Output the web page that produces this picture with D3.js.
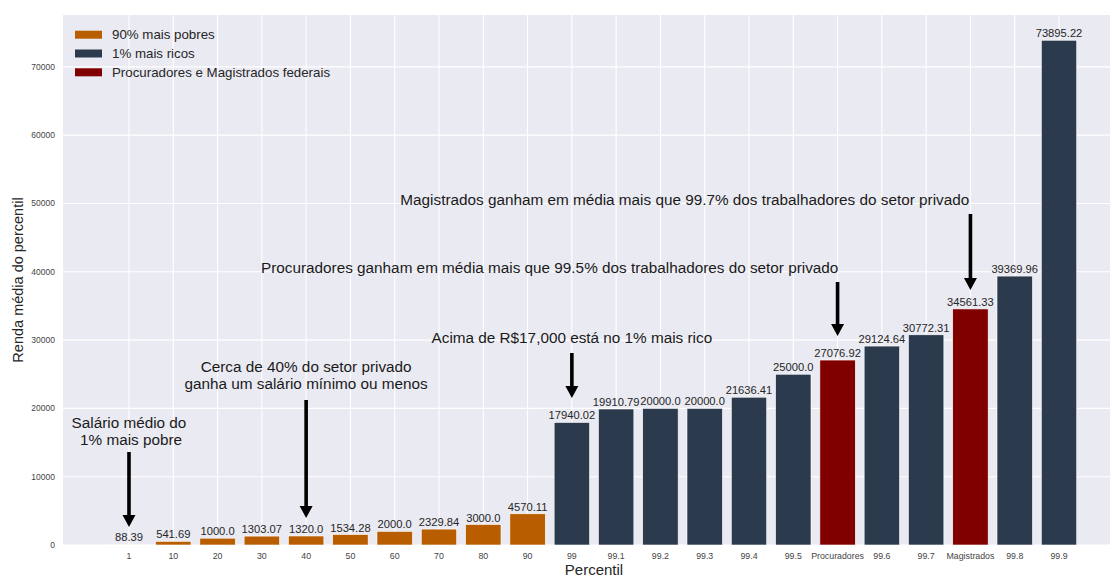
<!DOCTYPE html>
<html>
<head>
<meta charset="utf-8">
<script src="https://cdn.jsdelivr.net/npm/d3@7"></script>
<style>
  body { margin: 0; background: #fff; }
  svg { display: block; font-family: "Liberation Sans", Arial, sans-serif; }
</style>
</head>
<body>
<svg id="chart" width="1110" height="576"></svg>
<script>
var percentis = ['1', '10', '20', '30', '40', '50', '60', '70', '80', '90',
  '99', '99.1', '99.2', '99.3', '99.4', '99.5', 'Procuradores', '99.6', '99.7',
  'Magistrados', '99.8', '99.9'];
var rendas = [88.39, 541.69, 1000.0, 1303.07, 1320.0, 1534.28, 2000.0, 2329.84,
  3000.0, 4570.11, 17940.02, 19910.79, 20000.0, 20000.0, 21636.41, 25000.0,
  27076.92, 29124.64, 30772.31, 34561.33, 39369.96, 73895.22];
var grupos = ['pobres', 'pobres', 'pobres', 'pobres', 'pobres', 'pobres', 'pobres',
  'pobres', 'pobres', 'pobres', 'ricos', 'ricos', 'ricos', 'ricos', 'ricos', 'ricos',
  'federais', 'ricos', 'ricos', 'federais', 'ricos', 'ricos'];
var legendaNomes = ['90% mais pobres', '1% mais ricos', 'Procuradores e Magistrados federais'];
var legendaGrupos = ['pobres', 'ricos', 'federais'];
var yTicks = [0, 10000, 20000, 30000, 40000, 50000, 60000, 70000];

// annotations: text lines, text x (bar index), baseline of last line, arrow bar index, arrow from/to
var notas = [
  {lines: ['Salário médio do', ' 1% mais pobre'], tx: 0, ty: 14640, ax: 0, from: 13615, to: 2635},
  {lines: ['Cerca de 40% do setor privado', 'ganha um salário mínimo ou menos'], tx: 4, ty: 22837, ax: 4, from: 21227, to: 3953},
  {lines: ['Acima de R$17,000 está no 1% mais rico'], tx: 10, ty: 29571, ax: 10, from: 28107, to: 21520},
  {lines: ['Procuradores ganham em média mais que 99.5% dos trabalhadores do setor privado'], tx: 9.5, ty: 39819, ax: 16, from: 38500, to: 30596},
  {lines: ['Magistrados ganham em média mais que 99.7% dos trabalhadores do setor privado'], tx: 12.55, ty: 49773, ax: 19, from: 48456, to: 37330}
];

var cores = {pobres: '#b85e00', ricos: '#2c3a4d', federais: '#800000'};

var svg = d3.select('#chart');
var mLeft = 63, mRight = 1125, mTop = 15, mBottom = 545;

// matplotlib-like limits: bars at 0..n-1, width 0.8, 5% margin
var n = percentis.length;
var span = (n - 1) + 0.8;
var x = d3.scaleLinear()
  .domain([-0.4 - span * 0.05, n - 1 + 0.4 + span * 0.05])
  .range([mLeft, mRight]);
var y = d3.scaleLinear()
  .domain([0, d3.max(rendas) * 1.05])
  .range([mBottom, mTop]);

// background
svg.append('rect')
  .attr('x', mLeft).attr('y', mTop)
  .attr('width', mRight - mLeft).attr('height', mBottom - mTop)
  .attr('fill', '#eaeaf2');

// grid
svg.append('g').selectAll('line.hg')
  .data(yTicks)
  .enter().append('line')
    .attr('x1', mLeft).attr('x2', mRight)
    .attr('y1', function(d) { return y(d); })
    .attr('y2', function(d) { return y(d); })
    .attr('stroke', '#fff').attr('stroke-width', 1.1);

svg.append('g').selectAll('line.vg')
  .data(percentis)
  .enter().append('line')
    .attr('x1', function(d, i) { return x(i); })
    .attr('x2', function(d, i) { return x(i); })
    .attr('y1', mTop).attr('y2', mBottom)
    .attr('stroke', '#fff').attr('stroke-width', 1.1);

// bars
var bw = x(0.8) - x(0);
svg.append('g').selectAll('rect.bar')
  .data(rendas)
  .enter().append('rect')
    .attr('x', function(d, i) { return x(i) - bw / 2; })
    .attr('y', function(d) { return y(d); })
    .attr('width', bw)
    .attr('height', function(d) { return mBottom - y(d); })
    .attr('fill', function(d, i) { return cores[grupos[i]]; })
    .attr('stroke', '#fff').attr('stroke-width', 0.6);

// value labels
function rotulo(v) {
  return Number.isInteger(v) ? v.toFixed(1) : String(v);
}
svg.append('g').selectAll('text.val')
  .data(rendas)
  .enter().append('text')
    .attr('x', function(d, i) { return x(i); })
    .attr('y', function(d) { return y(d) - 3; })
    .attr('text-anchor', 'middle')
    .attr('font-size', 11.2)
    .attr('fill', '#262626')
    .text(rotulo);

// y tick labels
svg.append('g').selectAll('text.yt')
  .data(yTicks)
  .enter().append('text')
    .attr('x', 55)
    .attr('y', function(d) { return y(d); })
    .attr('dy', '0.35em')
    .attr('text-anchor', 'end')
    .attr('font-size', 8.5)
    .attr('fill', '#444')
    .text(function(d) { return d; });

// x tick labels
svg.append('g').selectAll('text.xt')
  .data(percentis)
  .enter().append('text')
    .attr('x', function(d, i) { return x(i); })
    .attr('y', mBottom + 11)
    .attr('dy', '0.35em')
    .attr('text-anchor', 'middle')
    .attr('font-size', 8.8)
    .attr('fill', '#444')
    .text(function(d) { return d; });

// axis titles
svg.append('text')
  .attr('x', (mLeft + mRight) / 2).attr('y', 575)
  .attr('text-anchor', 'middle')
  .attr('font-size', 15)
  .attr('fill', '#262626')
  .text('Percentil');

svg.append('text')
  .attr('transform', 'translate(23,' + ((mTop + mBottom) / 2) + ') rotate(-90)')
  .attr('text-anchor', 'middle')
  .attr('font-size', 14.5)
  .attr('fill', '#262626')
  .text('Renda média do percentil');

// legend
var leg = svg.append('g').selectAll('g.leg')
  .data(legendaNomes)
  .enter().append('g')
    .attr('transform', function(d, i) { return 'translate(75,' + (34.7 + i * 18.8) + ')'; });
leg.append('rect')
  .attr('x', 0).attr('y', -4)
  .attr('width', 27).attr('height', 8)
  .attr('fill', function(d, i) { return cores[legendaGrupos[i]]; });
leg.append('text')
  .attr('x', 37).attr('y', 0)
  .attr('dy', '0.35em')
  .attr('font-size', 13.3)
  .attr('fill', '#262626')
  .text(function(d) { return d; });

// annotations
function seta(ax, from, to) {
  var cx = x(ax), y0 = y(from), y1 = y(to);
  var sw = 1.8, hw = 6.5, hl = 12;
  return 'M' + (cx - sw) + ',' + y0 +
    'L' + (cx + sw) + ',' + y0 +
    'L' + (cx + sw) + ',' + (y1 - hl) +
    'L' + (cx + hw) + ',' + (y1 - hl) +
    'L' + cx + ',' + y1 +
    'L' + (cx - hw) + ',' + (y1 - hl) +
    'L' + (cx - sw) + ',' + (y1 - hl) + 'Z';
}

var ann = svg.append('g').selectAll('g.ann')
  .data(notas)
  .enter().append('g');

ann.append('path')
  .attr('d', function(d) { return seta(d.ax, d.from, d.to); })
  .attr('fill', '#000');

ann.each(function(d) {
  var g = d3.select(this);
  var nl = d.lines.length;
  d.lines.forEach(function(line, k) {
    g.append('text')
      .attr('x', x(d.tx))
      .attr('y', y(d.ty) - (nl - 1 - k) * 17)
      .attr('text-anchor', 'middle')
      .attr('font-size', 15.3)
      .attr('fill', '#1a1a1a')
      .style('white-space', 'pre')
      .text(line);
  });
});
</script>
</body>
</html>
